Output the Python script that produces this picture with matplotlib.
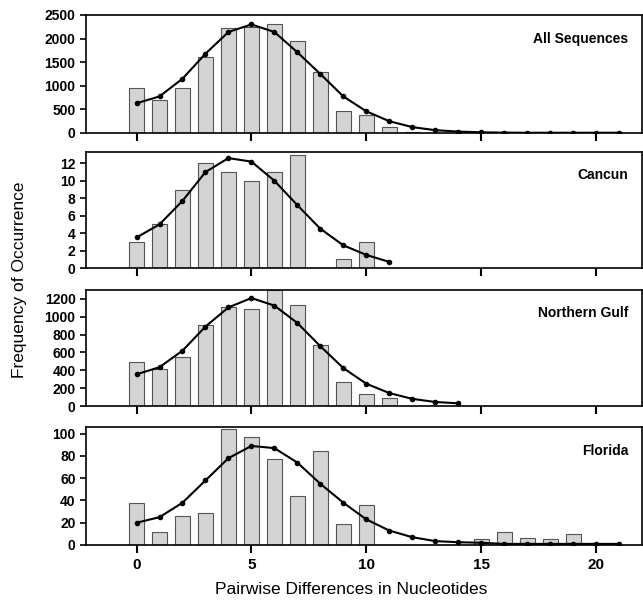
import numpy as np
import matplotlib.pyplot as plt

plt.rcParams['font.family'] = ['Liberation Sans', 'DejaVu Sans']

# observed pairwise differences (bars) and expected curve (line)
all_bars = [950, 700, 950, 1600, 2230, 2250, 2310, 1940, 1300, 460, 390, 120, 25, 10, 5, 3, 2, 2, 1, 1, 1, 0]
all_line = [630, 775, 1150, 1680, 2140, 2300, 2140, 1710, 1250, 775, 460, 250, 125, 60, 30, 15, 8, 5, 5, 5, 5, 5]

cancun_bars = [3, 5, 9, 12, 11, 10, 11, 13, 0, 1, 3]
cancun_line = [3.5, 5, 7.7, 11, 12.6, 12.2, 10, 7.2, 4.5, 2.6, 1.5, 0.7]

gulf_bars = [490, 410, 550, 910, 1105, 1090, 1300, 1130, 680, 270, 140, 95]
gulf_line = [355, 435, 620, 890, 1105, 1210, 1125, 930, 670, 425, 250, 145, 80, 45, 30]

florida_bars = [38, 12, 26, 29, 104, 97, 77, 44, 84, 19, 36, 0, 0, 0, 0, 5, 12, 6, 5, 10, 0, 0]
florida_line = [20, 25, 38, 58, 78, 89, 87, 74, 55, 38, 23, 13, 7, 3.5, 2.5, 2, 1, 1, 1, 1, 1, 1]

panels = [
    ("All Sequences", all_bars, all_line, 2500, np.arange(0, 2501, 500)),
    ("Cancun", cancun_bars, cancun_line, 13.3, np.arange(0, 13, 2)),
    ("Northern Gulf", gulf_bars, gulf_line, 1300, np.arange(0, 1201, 200)),
    ("Florida", florida_bars, florida_line, 106, np.arange(0, 101, 20)),
]

fig = plt.figure(figsize=(6.43, 6.02), dpi=100)
W, H = 643, 602
tops = [15, 152, 290, 427]
bots = [133, 268, 406, 545]
left, right = 86, 642

for i, (name, bars, line, ymax, yticks) in enumerate(panels):
    ax = fig.add_axes([left / W, 1 - bots[i] / H, (right - left) / W, (bots[i] - tops[i]) / H])
    ax.bar(np.arange(len(bars)), bars, width=0.65, color='#d4d4d4', edgecolor='#555555', linewidth=0.8)
    ax.plot(np.arange(len(line)), line, color='black', linewidth=1.5, marker='o', markersize=3)
    ax.set_xlim(-2.2, 22)
    ax.set_ylim(0, ymax)
    ax.set_yticks(yticks)
    ax.set_xticks([0, 5, 10, 15, 20])
    ax.tick_params(axis='x', direction='out', length=6, width=1.5)
    ax.tick_params(axis='y', direction='out', length=4, width=1.2)
    for lab in ax.get_yticklabels():
        lab.set_fontweight('bold')
        lab.set_fontsize(10)
    if i < 3:
        ax.set_xticklabels([])
    else:
        for lab in ax.get_xticklabels():
            lab.set_fontweight('bold')
            lab.set_fontsize(11)
    for sp in ax.spines.values():
        sp.set_linewidth(1.2)
    ax.text(0.975, 0.8, name, transform=ax.transAxes, ha='right', va='center',
            fontsize=10, fontweight='bold')

fig.text(20 / W, 0.5 * (1 - 15 / H + 1 - 545 / H), 'Frequency of Occurrence', rotation=90,
         ha='center', va='center', fontsize=12.5)
fig.text(0.5 * (left + right) / W - 0.02, 1 - 590 / H, 'Pairwise Differences in Nucleotides',
         ha='center', va='center', fontsize=12.5)

fig.savefig('out.png', dpi=100)
